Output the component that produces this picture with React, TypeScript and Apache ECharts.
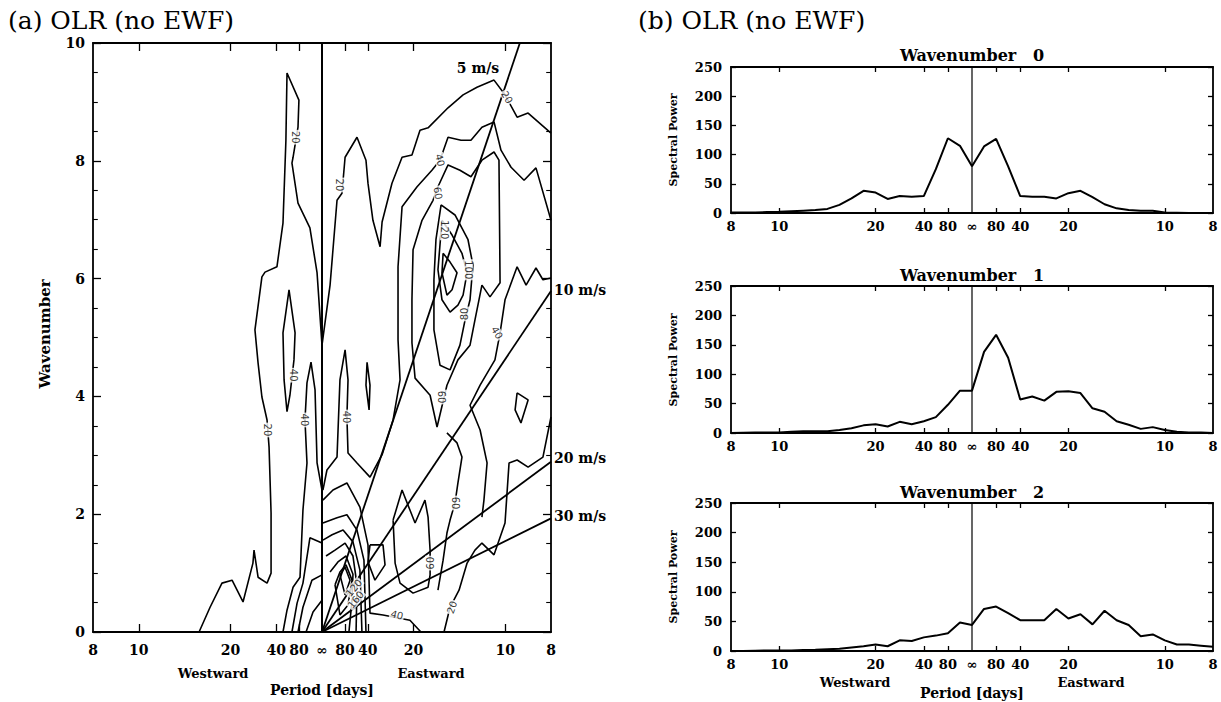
import React, { useEffect, useRef } from 'react';
import * as echarts from 'echarts';

// ---------- axis ticks (periods in days) ----------
const periodLabels = [8, 10, 20, 40, 80];
const periodTickMarks = [10, 20, 40, 80];

// ---------- panel (b): spectral power vs frequency (cpd), negative = westward ----------
const freqs = [-0.125, -0.11875, -0.1125, -0.10625, -0.1, -0.09375, -0.0875, -0.08125, -0.075, -0.06875, -0.0625, -0.05625, -0.05, -0.04375, -0.0375, -0.03125, -0.025, -0.01875, -0.0125, -0.00625, 0, 0.00625, 0.0125, 0.01875, 0.025, 0.03125, 0.0375, 0.04375, 0.05, 0.05625, 0.0625, 0.06875, 0.075, 0.08125, 0.0875, 0.09375, 0.1, 0.10625, 0.1125, 0.11875, 0.125];
const power0 = [1, 1, 1, 1.5, 2, 3, 4, 5, 7, 14, 25, 38, 35, 24, 29, 28, 29, 75, 128, 115, 80, 114, 127, 80, 29, 28, 28, 25, 34, 38, 27, 15, 8, 5, 4, 4, 1, 0.5, 0, 0, 0];
const power1 = [0, 0.5, 1, 1, 1, 2, 3, 3, 3, 5, 8, 13, 15, 11, 19, 15, 20, 27, 48, 72, 72, 138, 167, 128, 57, 62, 55, 70, 71, 68, 42, 36, 20, 14, 7, 10, 5, 2, 1, 1, 0];
const power2 = [0, 0, 0.5, 1, 1, 1, 1.5, 2, 3, 4, 6, 8, 11, 8, 18, 17, 23, 26, 30, 48, 44, 71, 75, 64, 52, 52, 52, 71, 55, 62, 45, 68, 52, 44, 25, 28, 18, 11, 11, 9, 7];
const panelTitles = ['Wavenumber   0', 'Wavenumber   1', 'Wavenumber   2'];

// ---------- panel (a): contour lines [frequency cpd, wavenumber] ----------
const c20a = [[-0.0671,0],[-0.0611,0.42],[-0.0546,0.83],[-0.0491,0.88],[-0.0431,0.51],[-0.0377,1.17],[-0.0371,1.39],[-0.0349,0.93],[-0.03,0.83],[-0.0278,1.0],[-0.0278,2.02],[-0.0289,3.14],[-0.03,3.6],[-0.0328,3.99],[-0.0349,4.57],[-0.0366,5.13],[-0.0328,6.03],[-0.0311,6.11],[-0.0246,6.2],[-0.0213,6.94],[-0.0197,8.35],[-0.0191,9.49],[-0.0126,9.03],[-0.0131,8.57],[-0.0158,8.06],[-0.0164,7.96],[-0.0131,7.28],[-0.0066,6.86],[-0.0027,6.1],[0,4.87],[0.0044,5.89],[0.0082,7.33],[0.0109,7.45],[0.0126,8.06],[0.0191,8.4],[0.024,8.01],[0.0251,7.62],[0.0278,6.99],[0.0317,6.54],[0.0328,6.96],[0.0382,7.62],[0.0437,8.06],[0.0491,8.1],[0.0535,8.52],[0.0579,8.56],[0.0688,8.9],[0.077,9.12],[0.0846,9.25],[0.0939,9.37],[0.0999,9.12],[0.1065,8.74],[0.1125,8.81],[0.125,8.47]];
const c20b = [[0.0666,0],[0.0699,0.42],[0.0748,0.71],[0.0792,1.17],[0.0835,1.39],[0.0873,1.51],[0.0939,1.31],[0.0999,1.85],[0.1021,2.87],[0.1065,2.92],[0.1125,2.8],[0.1206,2.97],[0.125,3.65]];
const c20c = [[0.1065,4.06],[0.1125,3.94],[0.1086,3.55],[0.1054,3.77],[0.1065,4.06]];
const c40w1 = [[-0.018,5.81],[-0.0213,5.08],[-0.0207,4.28],[-0.0191,3.74],[-0.0175,4.02],[-0.0153,4.62],[-0.0147,5.08],[-0.018,5.81]];
const c40w2 = [[0,2.41],[-0.0027,2.87],[-0.0038,4.11],[-0.006,4.58],[-0.0082,4.23],[-0.0093,3.6],[-0.0082,2.87],[-0.0104,2.07],[-0.012,0.93],[-0.0158,0.76],[-0.0191,0.37],[-0.0213,0]];
const c60w = [[0,1.51],[-0.0066,1.6],[-0.0104,0.83],[-0.0136,0.49],[-0.0164,0]];
const c80w = [[0,0.97],[-0.0055,0.88],[-0.0104,0.42],[-0.0131,0]];
const c100w = [[0,0.54],[-0.0049,0.34],[-0.0087,0]];
const c40e1 = [[0.0005,2.41],[0.0027,2.75],[0.0082,2.97],[0.0098,4.28],[0.0126,4.79],[0.0142,4.28],[0.0136,3.65],[0.0142,3.04],[0.0191,2.87],[0.0262,2.63],[0.0328,3.01],[0.0388,3.6],[0.0426,4.28],[0.0415,4.96],[0.0415,6.2],[0.0437,7.22],[0.0519,7.56],[0.06,7.84],[0.0644,8.01],[0.0688,8.4],[0.0759,8.35],[0.0813,8.35],[0.0873,8.57],[0.0939,8.66],[0.0977,8.18],[0.1032,7.89],[0.1103,7.67],[0.1168,7.88],[0.125,6.99]];
const c40e2 = [[0.0005,2.24],[0.006,2.41],[0.0136,2.53],[0.0207,2.12],[0.0251,1.48],[0.0262,0.32],[0.0333,0.29],[0.048,0.2],[0.054,0]];
const c60e = [[0.0005,1.85],[0.0082,1.94],[0.0136,1.99],[0.0191,1.73],[0.0229,1.22],[0.024,0]];
const c80e = [[0.0005,1.56],[0.0055,1.65],[0.0115,1.73],[0.0169,1.53],[0.0207,1.05],[0.0218,0]];
const c100e = [[0.0022,1.29],[0.0071,1.39],[0.0126,1.51],[0.0169,1.29],[0.0191,0.8],[0.0186,0]];
const c120e = [[0.0044,1.02],[0.0087,1.19],[0.0131,1.29],[0.0169,0.98],[0.0164,0.54],[0.0147,0]];
const c140e = [[0.0071,0.8],[0.0098,1.02],[0.0131,1.14],[0.0164,0.88],[0.0142,0.46],[0.0098,0.29],[0.0071,0.8]];
const c160e = [[0.0098,0.97],[0.0126,1.1],[0.0153,0.88],[0.0126,0.63],[0.0098,0.97]];
const c40thin = [[0.0246,4.58],[0.0262,4.19],[0.0257,3.77],[0.024,4.19],[0.0246,4.58]];
const c60loop = [[0.0388,1.9],[0.0437,2.41],[0.048,2.07],[0.0508,1.85],[0.0562,2.24],[0.0579,1.95],[0.059,1.39],[0.059,0.97],[0.0579,0.76],[0.0497,0.66],[0.0426,0.83],[0.0399,1.17],[0.0388,1.9]];
const c40loop = [[0.0262,1.48],[0.0333,1.48],[0.0344,1.14],[0.0289,0.88],[0.0251,1.19],[0.0262,1.48]];
const c60up = [[0.0628,3.48],[0.059,4.02],[0.0508,4.31],[0.0491,4.91],[0.0491,5.64],[0.0497,6.49],[0.0546,6.99],[0.0606,7.33],[0.0633,7.56],[0.0688,7.93],[0.0753,7.84],[0.0813,7.73],[0.0873,8.01],[0.0939,8.15],[0.0966,8.01],[0.0972,5.93],[0.0917,5.69],[0.0873,5.89],[0.0835,5.3],[0.0808,4.87],[0.0742,4.62],[0.0682,4.19],[0.0628,3.48]];
const c80up = [[0.065,7.25],[0.0726,7.08],[0.0797,6.66],[0.0824,6.23],[0.0808,5.64],[0.0781,5.3],[0.0753,4.87],[0.0699,4.45],[0.0644,4.53],[0.0611,5.13],[0.0611,5.98],[0.0622,6.66],[0.065,7.25]];
const c100up = [[0.0655,6.99],[0.071,6.74],[0.0764,6.43],[0.0792,6.1],[0.077,5.72],[0.0742,5.55],[0.0699,5.43],[0.0655,5.64],[0.0633,6.15],[0.0655,6.99]];
const c120up = [[0.0661,6.43],[0.0699,6.28],[0.0737,6.1],[0.071,5.81],[0.0682,5.72],[0.0655,6.1],[0.0661,6.43]];
const c40r = [[0.125,6.01],[0.1206,5.98],[0.1168,6.18],[0.1114,5.89],[0.1065,6.2],[0.0999,5.64],[0.0972,5.08],[0.0944,4.62],[0.0863,4.19],[0.0808,3.85],[0.0863,3.43],[0.0901,2.87],[0.0884,2.24],[0.0873,1.95]];
const c60mid = [[0.0682,3.38],[0.0737,3.21],[0.0764,2.97],[0.0742,2.53],[0.0726,2.19],[0.0699,1.9],[0.0682,1.68],[0.0661,1.22],[0.0633,0.71]];

const contours = [c20a, c20b, c20c, c40w1, c40w2, c60w, c80w, c100w, c40e1, c40e2, c60e, c80e, c100e, c120e, c140e, c160e, c40thin, c60loop, c40loop, c60up, c80up, c100up, c120up, c40r, c60mid];

const contourLabelText = ['20', '20', '20', '20', '20', '40', '40', '40', '40', '40', '40', '60', '60', '60', '60', '80', '100', '120', '120', '160'];
const contourLabelPos = [[-0.0147,8.4],[0.0098,7.59],[0.101,9.08],[-0.03,3.43],[0.071,0.42],[-0.0158,4.36],[-0.0093,3.6],[0.0136,3.65],[0.0644,8.01],[0.0409,0.29],[0.0955,5.08],[0.0633,7.45],[0.0655,3.99],[0.0726,2.19],[0.059,1.17],[0.078,5.4],[0.0797,6.15],[0.0671,6.83],[0.0175,0.75],[0.0185,0.55]];
const contourLabelRot = [-90, -90, -60, -90, 70, -90, -90, -90, -75, -15, -60, -80, -90, -90, 90, 90, -90, -90, 50, 50];

// phase speed reference lines (end points)
const speedLabels = ['5 m/s', '10 m/s', '20 m/s', '30 m/s'];
const speedEnds = [[0.108, 10], [0.125, 5.79], [0.125, 2.89], [0.125, 1.93]];

const SERIF = '"DejaVu Serif", serif';

const xFmt = (v: number) => (Math.abs(v) < 1e-9 ? '∞' : String(Math.round(1 / Math.abs(v))));
const labelVals = [...periodLabels.map((p) => -1 / p), 0, ...periodLabels.map((p) => 1 / p)];
const tickVals = [...periodTickMarks.map((p) => -1 / p), ...periodTickMarks.map((p) => 1 / p)];

const AXLINE = { show: true, onZero: false, lineStyle: { color: '#000', width: 1.8 } };

function xAxesFor(gridIndex: number, fontSize: number, margin: number, tickLen: number) {
  const base = {
    type: 'value', gridIndex, min: -0.125, max: 0.125,
    axisLine: AXLINE, splitLine: { show: false },
    axisTick: { show: true, inside: true, length: tickLen, customValues: tickVals, lineStyle: { color: '#000', width: 1.3 } },
  };
  return [
    { ...base, position: 'bottom', axisLabel: { show: true, customValues: labelVals, formatter: xFmt, margin, fontSize, fontWeight: 'bold', fontFamily: SERIF, color: '#000' } },
    { ...base, position: 'top', axisLabel: { show: false } },
  ];
}

function yAxesFor(gridIndex: number, max: number, interval: number, fontSize: number, margin: number, tickLen: number, minor: boolean) {
  const base = {
    type: 'value', gridIndex, min: 0, max, interval,
    axisLine: AXLINE, splitLine: { show: false },
    axisTick: { show: true, inside: true, length: tickLen, lineStyle: { color: '#000', width: 1.3 } },
    minorTick: { show: minor, splitNumber: 4, length: tickLen * 0.6, lineStyle: { color: '#000', width: 1.1 } },
  };
  return [
    { ...base, position: 'left', axisLabel: { show: true, margin, fontSize, fontWeight: 'bold', fontFamily: SERIF, color: '#000' } },
    { ...base, position: 'right', axisLabel: { show: false } },
  ];
}

export default function App() {
  const ref = useRef<HTMLDivElement>(null);
  useEffect(() => {
    if (!ref.current) return;
    const chart = echarts.init(ref.current, undefined, { renderer: 'svg' });

    const grids = [
      { left: 93, top: 43, width: 458, height: 589 },
      { left: 731, top: 67, width: 482, height: 146 },
      { left: 731, top: 286, width: 482, height: 147 },
      { left: 731, top: 503, width: 482, height: 148 },
    ].map((g) => ({ ...g, show: false }));

    const xAxis: any[] = [...xAxesFor(0, 14, 11, 8)];
    const yAxis: any[] = [...yAxesFor(0, 10, 2, 14, 8, 8, true)];
    for (let i = 1; i <= 3; i++) {
      xAxis.push(...xAxesFor(i, 13, 7, 5));
      yAxis.push(...yAxesFor(i, 250, 50, 13, 9, 5, false));
    }

    const series: any[] = [];
    contours.forEach((c) => {
      series.push({ type: 'line', xAxisIndex: 0, yAxisIndex: 0, data: c, symbol: 'none', silent: true, lineStyle: { color: '#000', width: 1.6 }, z: 2 });
    });
    series.push({ type: 'line', xAxisIndex: 0, yAxisIndex: 0, data: [[0, 0], [0, 10]], symbol: 'none', silent: true, lineStyle: { color: '#000', width: 2 }, z: 3 });
    speedEnds.forEach((e) => {
      series.push({ type: 'line', xAxisIndex: 0, yAxisIndex: 0, data: [[0, 0], e], symbol: 'none', silent: true, lineStyle: { color: '#000', width: 1.8 }, z: 3 });
    });
    series.push({
      type: 'scatter', xAxisIndex: 0, yAxisIndex: 0, symbolSize: 1, silent: true, z: 5,
      itemStyle: { color: 'rgba(0,0,0,0)' },
      data: contourLabelText.map((t, i) => ({ name: t, value: contourLabelPos[i], label: { rotate: contourLabelRot[i] } })),
      label: { show: true, position: 'inside', formatter: '{b}', fontSize: 10, fontFamily: '"DejaVu Sans", sans-serif', color: '#000', backgroundColor: '#fff', padding: [0, 1] },
    });

    [power0, power1, power2].forEach((p, i) => {
      const xi = 2 * (i + 1);
      series.push({ type: 'line', xAxisIndex: xi, yAxisIndex: xi, data: [[0, 0], [0, 250]], symbol: 'none', silent: true, lineStyle: { color: '#000', width: 1.2 } });
      series.push({ type: 'line', xAxisIndex: xi, yAxisIndex: xi, data: freqs.map((f, j) => [f, p[j]]), symbol: 'none', silent: true, lineStyle: { color: '#000', width: 2 } });
    });

    const txt = (text: string, x: number, y: number, size: number, opts: any = {}) => ({
      type: 'text', x, y, rotation: opts.rotation || 0, silent: true,
      style: { text, fontSize: size, fontFamily: opts.family || SERIF, fontWeight: opts.weight || 'bold', fill: '#000', align: opts.align || 'center', verticalAlign: 'middle' },
    });

    const graphic: any[] = [
      txt('(a) OLR (no EWF)', 8, 20, 25, { align: 'left', weight: 'normal' }),
      txt('(b) OLR (no EWF)', 638, 20, 25, { align: 'left', weight: 'normal' }),
      txt('Wavenumber', 45, 334, 15, { rotation: Math.PI / 2 }),
      txt('Westward', 213, 673, 13),
      txt('Eastward', 431, 673, 13),
      txt('Period [days]', 322, 690, 14),
      txt(speedLabels[0], 478, 68, 14),
      txt(speedLabels[1], 554, 290, 14, { align: 'left' }),
      txt(speedLabels[2], 554, 458, 14, { align: 'left' }),
      txt(speedLabels[3], 554, 516, 14, { align: 'left' }),
      txt(panelTitles[0], 972, 55, 16),
      txt(panelTitles[1], 972, 275, 16),
      txt(panelTitles[2], 972, 492, 16),
      txt('Spectral Power', 673, 140, 11, { rotation: Math.PI / 2 }),
      txt('Spectral Power', 673, 360, 11, { rotation: Math.PI / 2 }),
      txt('Spectral Power', 673, 577, 11, { rotation: Math.PI / 2 }),
      txt('Westward', 855, 682, 13),
      txt('Eastward', 1091, 682, 13),
      txt('Period [days]', 972, 693, 14),
    ];

    chart.setOption({ animation: false, backgroundColor: '#fff', grid: grids, xAxis, yAxis, series, graphic });
    return () => chart.dispose();
  }, []);
  return <div ref={ref} style={{ position: 'fixed', left: 0, top: 0, width: 1221, height: 702, background: '#fff' }} />;
}
